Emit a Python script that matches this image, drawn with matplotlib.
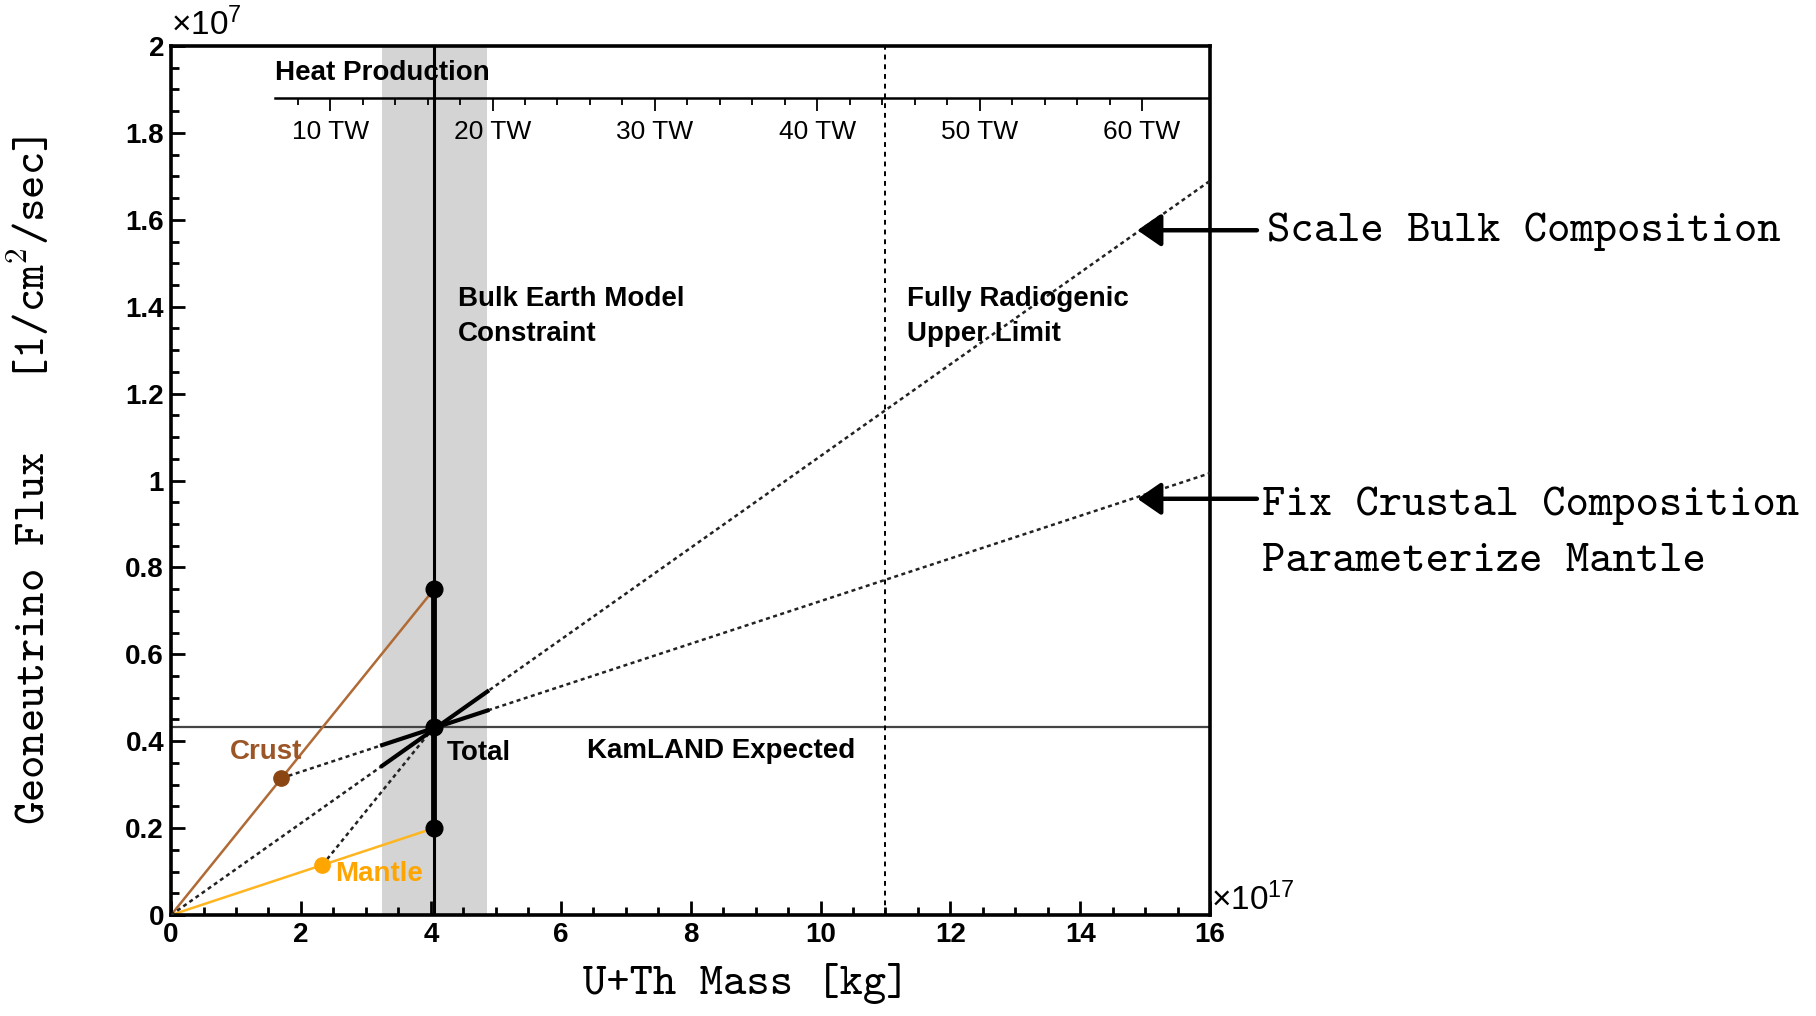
import numpy as np
import matplotlib
matplotlib.use('Agg')
import matplotlib.pyplot as plt
from matplotlib.ticker import MultipleLocator

# --- 0. Global style settings ---
plt.rcParams['font.family'] = 'Liberation Sans'
plt.rcParams['mathtext.fontset'] = 'cm'
plt.rcParams['axes.unicode_minus'] = False

# --- 1. Data (mass in 1e17 kg, flux in 1e7 /cm2/s) ---
total_mass = 4.05
total_flux = 0.433
crust_max_flux = 0.75
mantle_max_flux = 0.20
crust_point = (1.70, 0.315)
mantle_point = (2.33, 0.115)
band_mass = (3.25, 4.87)
radiogenic_limit_mass = 11.0
kamland_flux = 0.433
bulk_end = (16.0, 1.69)
crust_fix_end = (16.0, 1.017)

x_ticks = [0, 2, 4, 6, 8, 10, 12, 14, 16]
y_ticks = [0, 0.2, 0.4, 0.6, 0.8, 1.0, 1.2, 1.4, 1.6, 1.8, 2.0]
y_tick_labels = ['0', '0.2', '0.4', '0.6', '0.8', '1', '1.2', '1.4', '1.6', '1.8', '2']

# heat production scale (TW) on top
heat_major_tw = [10, 20, 30, 40, 50, 60]
heat_minor_tw = [8, 12, 14, 16, 18, 22, 24, 26, 28, 32, 34, 36, 38,
                 42, 44, 46, 48, 52, 54, 56, 58]
heat_axis_tw = (6.6, 64.2)
heat_axis_flux = 1.881


def tw_to_mass(tw):
    return 0.25 * np.asarray(tw, dtype=float) - 0.05


# --- 2. Plot ---
fig = plt.figure(figsize=(18.16, 10.16), dpi=100)
ax = fig.add_axes([0.0942, 0.0994, 0.5722, 0.8553])
ax.set_xlim(0, 16)
ax.set_ylim(0, 2)

ax.axvspan(*band_mass, color='#d4d4d4', lw=0, zorder=0)
ax.axhline(kamland_flux, color='#444444', lw=1.6, zorder=1)
ax.axvline(radiogenic_limit_mass, color='k', lw=1.4, ls=(0, (2.5, 2.5)), zorder=1)

# crust / mantle lines
ax.plot([0, total_mass], [0, crust_max_flux], color='#b06a35', lw=1.8, zorder=2)
ax.plot([0, total_mass], [0, mantle_max_flux], color='#ffb520', lw=1.8, zorder=2)

# dotted scaling lines
dot = (0, (1.6, 1.4))
ax.plot([0, bulk_end[0]], [0, bulk_end[1]], color='#222222', lw=1.8, ls=dot, zorder=3)
ax.plot([crust_point[0], crust_fix_end[0]], [crust_point[1], crust_fix_end[1]],
        color='#222222', lw=1.8, ls=dot, zorder=3)
ax.plot([mantle_point[0], total_mass], [mantle_point[1], total_flux],
        color='#222222', lw=1.8, ls=dot, zorder=3)

# thick segments inside the band
bx = np.array(band_mass)
ax.plot(bx, np.interp(bx, [0, bulk_end[0]], [0, bulk_end[1]]), color='k', lw=3.0, zorder=4)
ax.plot(bx, np.interp(bx, [crust_point[0], crust_fix_end[0]], [crust_point[1], crust_fix_end[1]]),
        color='k', lw=3.0, zorder=4)

# vertical total line
ax.axvline(total_mass, color='k', lw=2.2, zorder=4)
ax.plot([total_mass, total_mass], [mantle_max_flux, crust_max_flux], color='k', lw=4.2, zorder=4)

ax.plot([total_mass] * 3, [crust_max_flux, total_flux, mantle_max_flux], 'o',
        color='k', ms=12, zorder=5)
ax.plot(*crust_point, 'o', color='#8b4513', ms=11, zorder=5)
ax.plot(*mantle_point, 'o', color='#ffa500', ms=11, zorder=5)

# heat production axis
hx = tw_to_mass(heat_axis_tw)
ax.plot(hx, [heat_axis_flux] * 2, color='k', lw=1.8, zorder=3)
ax.vlines(tw_to_mass(heat_major_tw), heat_axis_flux - 0.03, heat_axis_flux, color='k', lw=1.3)
ax.vlines(tw_to_mass(heat_minor_tw), heat_axis_flux - 0.017, heat_axis_flux, color='k', lw=1.3)
for tw in heat_major_tw:
    ax.text(tw_to_mass(tw), 1.801, f'{tw} TW', ha='center', va='center', fontsize=19)
ax.text(hx[0], 1.937, 'Heat Production', ha='left', va='center', fontsize=20, fontweight='bold')

# labels inside
bold = dict(fontsize=20, fontweight='bold', va='center', ha='left')
ax.text(4.42, 1.378, 'Bulk Earth Model\nConstraint', linespacing=1.45, **bold)
ax.text(11.33, 1.378, 'Fully Radiogenic\nUpper Limit', linespacing=1.45, **bold)
ax.text(4.24, 0.372, 'Total', **bold)
ax.text(6.40, 0.377, 'KamLAND Expected', **bold)
ax.text(0.90, 0.376, 'Crust', color='#9c5526', **bold)
ax.text(2.52, 0.094, 'Mantle', color='#ffa500', **bold)

# multipliers
ax.text(0.0, 2.008, r'$\mathregular{\times10^{7}}$', fontsize=24, ha='left', va='bottom')
ax.text(16.02, 0.035, r'$\mathregular{\times10^{17}}$', fontsize=24, ha='left', va='center')

# arrows and notes on the right
mono = dict(fontsize=32, fontfamily='cmtt10', va='center', ha='left')
arrow = dict(arrowstyle='-|>,head_length=0.55,head_width=0.38', lw=3.2, color='k',
             mutation_scale=26, shrinkA=0, shrinkB=0)
ax.annotate('', xy=(14.88, 1.576), xytext=(16.72, 1.576), arrowprops=arrow,
            annotation_clip=False)
ax.annotate('', xy=(14.88, 0.958), xytext=(16.72, 0.958), arrowprops=arrow,
            annotation_clip=False)
ax.text(16.88, 1.572, 'Scale Bulk Composition', clip_on=False, **mono)
ax.text(16.80, 0.942, 'Fix Crustal Composition', clip_on=False, **mono)
ax.text(16.80, 0.813, 'Parameterize Mantle', clip_on=False, **mono)

# axes styling
ax.set_xticks(x_ticks)
ax.set_xticklabels([str(v) for v in x_ticks])
ax.set_yticks(y_ticks)
ax.set_yticklabels(y_tick_labels)
ax.xaxis.set_minor_locator(MultipleLocator(0.5))
ax.yaxis.set_minor_locator(MultipleLocator(0.05))
ax.tick_params(which='both', direction='in', top=False, right=False, width=2.0)
ax.tick_params(which='major', length=10, labelsize=20, pad=5)
ax.tick_params(which='minor', length=5.5)
for lab in ax.get_xticklabels() + ax.get_yticklabels():
    lab.set_fontweight('bold')
for sp in ax.spines.values():
    sp.set_linewidth(2.6)

ax.set_xlabel('U+Th Mass [kg]', fontsize=32, fontfamily='cmtt10')
ax.set_ylabel('Geoneutrino Flux   [1/cm$^{2}$/sec]', fontsize=32, fontfamily='cmtt10')
ax.xaxis.set_label_coords(0.553, -0.055)
ax.yaxis.set_label_coords(-0.112, 0.5)

fig.savefig('out.png', dpi=100)
